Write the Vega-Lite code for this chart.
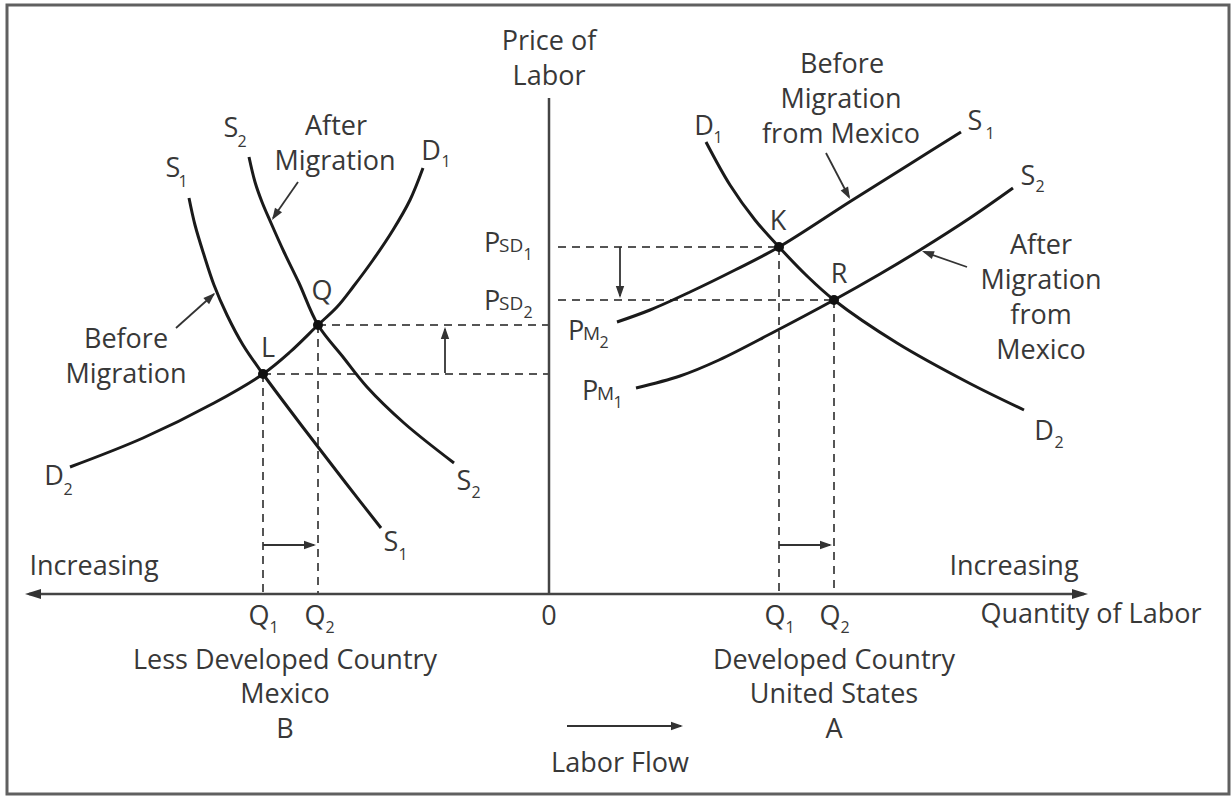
{
  "$schema": "https://vega.github.io/schema/vega-lite/v6.json",
  "width": 1231,
  "height": 797,
  "autosize": {"type": "fit", "contains": "padding"},
  "padding": 0,
  "background": "white",
  "config": {"view": {"stroke": null}, "text": {"font": "Open Sans"}},
  "datasets": {
    "frame": [{"x": -542, "y": 590, "x2": 680, "y2": -199}],
    "dashes": [
      {"x": -286, "y": 221, "x2": 0, "y2": 221},
      {"x": -231, "y": 270, "x2": 0, "y2": 270},
      {"x": -286, "y": 221, "x2": -286, "y2": 1},
      {"x": -231, "y": 270, "x2": -231, "y2": 1},
      {"x": 9, "y": 348, "x2": 230, "y2": 348},
      {"x": 9, "y": 295, "x2": 285, "y2": 295},
      {"x": 230, "y": 348, "x2": 230, "y2": 1},
      {"x": 285, "y": 295, "x2": 285, "y2": 1}
    ],
    "axes": [
      {"x": -520, "y": 1, "x2": 535, "y2": 1},
      {"x": 0, "y": 0, "x2": 0, "y2": 497}
    ],
    "arrows": [
      {"x": -104, "y": 222, "x2": -104, "y2": 266},
      {"x": 71, "y": 348, "x2": 71, "y2": 299},
      {"x": -286, "y": 50, "x2": -235, "y2": 50},
      {"x": 230, "y": 50, "x2": 281, "y2": 50},
      {"x": 18, "y": -131, "x2": 132, "y2": -131},
      {"x": -251, "y": 413, "x2": -276, "y2": 377},
      {"x": -373, "y": 267, "x2": -335, "y2": 301},
      {"x": 277, "y": 442, "x2": 300, "y2": 398},
      {"x": 418, "y": 328, "x2": 375, "y2": 343}
    ],
    "heads": [
      {"x": -104, "y": 268, "angle": 0},
      {"x": 71, "y": 297, "angle": 180},
      {"x": -233, "y": 50, "angle": 90},
      {"x": 283, "y": 50, "angle": 90},
      {"x": 134, "y": -131, "angle": 90},
      {"x": -277, "y": 375, "angle": 213},
      {"x": -334, "y": 302, "angle": 47},
      {"x": 301, "y": 396, "angle": 152},
      {"x": 373, "y": 344, "angle": 290}
    ],
    "axisHeads": [
      {"x": -524, "y": 1, "angle": 270},
      {"x": 539, "y": 1, "angle": 90}
    ],
    "dots": [
      {"x": -286, "y": 221},
      {"x": -231, "y": 270},
      {"x": 230, "y": 348},
      {"x": 285, "y": 295}
    ],
    "curves": [
      {"curve": "LS1", "i": 0, "x": -360, "y": 397},
      {"curve": "LS1", "i": 1, "x": -354, "y": 370},
      {"curve": "LS1", "i": 2, "x": -345, "y": 340},
      {"curve": "LS1", "i": 3, "x": -335, "y": 310},
      {"curve": "LS1", "i": 4, "x": -322, "y": 280},
      {"curve": "LS1", "i": 5, "x": -306, "y": 250},
      {"curve": "LS1", "i": 6, "x": -286, "y": 221},
      {"curve": "LS1", "i": 7, "x": -244, "y": 165},
      {"curve": "LS1", "i": 8, "x": -204, "y": 113},
      {"curve": "LS1", "i": 9, "x": -168, "y": 67},
      {"curve": "LS2", "i": 0, "x": -300, "y": 438},
      {"curve": "LS2", "i": 1, "x": -294, "y": 413},
      {"curve": "LS2", "i": 2, "x": -287, "y": 393},
      {"curve": "LS2", "i": 3, "x": -278, "y": 372},
      {"curve": "LS2", "i": 4, "x": -265, "y": 343},
      {"curve": "LS2", "i": 5, "x": -250, "y": 312},
      {"curve": "LS2", "i": 6, "x": -231, "y": 270},
      {"curve": "LS2", "i": 7, "x": -206, "y": 238},
      {"curve": "LS2", "i": 8, "x": -182, "y": 208},
      {"curve": "LS2", "i": 9, "x": -145, "y": 172},
      {"curve": "LS2", "i": 10, "x": -95, "y": 132},
      {"curve": "LD", "i": 0, "x": -126, "y": 427},
      {"curve": "LD", "i": 1, "x": -139, "y": 395},
      {"curve": "LD", "i": 2, "x": -156, "y": 365},
      {"curve": "LD", "i": 3, "x": -176, "y": 335},
      {"curve": "LD", "i": 4, "x": -196, "y": 308},
      {"curve": "LD", "i": 5, "x": -212, "y": 288},
      {"curve": "LD", "i": 6, "x": -231, "y": 270},
      {"curve": "LD", "i": 7, "x": -259, "y": 243},
      {"curve": "LD", "i": 8, "x": -286, "y": 221},
      {"curve": "LD", "i": 9, "x": -335, "y": 192},
      {"curve": "LD", "i": 10, "x": -406, "y": 157},
      {"curve": "LD", "i": 11, "x": -479, "y": 128},
      {"curve": "RD", "i": 0, "x": 157, "y": 453},
      {"curve": "RD", "i": 1, "x": 181, "y": 410},
      {"curve": "RD", "i": 2, "x": 206, "y": 375},
      {"curve": "RD", "i": 3, "x": 230, "y": 348},
      {"curve": "RD", "i": 4, "x": 257, "y": 320},
      {"curve": "RD", "i": 5, "x": 285, "y": 295},
      {"curve": "RD", "i": 6, "x": 348, "y": 252},
      {"curve": "RD", "i": 7, "x": 420, "y": 212},
      {"curve": "RD", "i": 8, "x": 475, "y": 185},
      {"curve": "RS1", "i": 0, "x": 68, "y": 273},
      {"curve": "RS1", "i": 1, "x": 101, "y": 285},
      {"curve": "RS1", "i": 2, "x": 141, "y": 303},
      {"curve": "RS1", "i": 3, "x": 186, "y": 325},
      {"curve": "RS1", "i": 4, "x": 230, "y": 348},
      {"curve": "RS1", "i": 5, "x": 302, "y": 394},
      {"curve": "RS1", "i": 6, "x": 361, "y": 431},
      {"curve": "RS1", "i": 7, "x": 412, "y": 463},
      {"curve": "RS2", "i": 0, "x": 87, "y": 207},
      {"curve": "RS2", "i": 1, "x": 131, "y": 219},
      {"curve": "RS2", "i": 2, "x": 170, "y": 235},
      {"curve": "RS2", "i": 3, "x": 223, "y": 262},
      {"curve": "RS2", "i": 4, "x": 285, "y": 295},
      {"curve": "RS2", "i": 5, "x": 331, "y": 321},
      {"curve": "RS2", "i": 6, "x": 371, "y": 345},
      {"curve": "RS2", "i": 7, "x": 421, "y": 377},
      {"curve": "RS2", "i": 8, "x": 464, "y": 407}
    ],
    "big": [
      {"x": 0, "y": 545, "t": "Price of"},
      {"x": 0, "y": 510, "t": "Labor"},
      {"x": -213, "y": 460, "t": "After"},
      {"x": -214, "y": 425, "t": "Migration"},
      {"x": -423, "y": 247, "t": "Before"},
      {"x": -423, "y": 212, "t": "Migration"},
      {"x": -227, "y": 295, "t": "Q"},
      {"x": -281, "y": 238, "t": "L"},
      {"x": 293, "y": 522, "t": "Before"},
      {"x": 292, "y": 487, "t": "Migration"},
      {"x": 292, "y": 452, "t": "from Mexico"},
      {"x": 229, "y": 365, "t": "K"},
      {"x": 290, "y": 312, "t": "R"},
      {"x": 492, "y": 341, "t": "After"},
      {"x": 492, "y": 306, "t": "Migration"},
      {"x": 492, "y": 271, "t": "from"},
      {"x": 492, "y": 236, "t": "Mexico"},
      {"x": -455, "y": 20, "t": "Increasing"},
      {"x": 465, "y": 20, "t": "Increasing"},
      {"x": 0, "y": -30, "t": "0"},
      {"x": 542, "y": -28, "t": "Quantity of Labor"},
      {"x": -264, "y": -74, "t": "Less Developed Country"},
      {"x": -264, "y": -108, "t": "Mexico"},
      {"x": -264, "y": -143, "t": "B"},
      {"x": 285, "y": -74, "t": "Developed Country"},
      {"x": 285, "y": -108, "t": "United States"},
      {"x": 285, "y": -143, "t": "A"},
      {"x": 71, "y": -177, "t": "Labor Flow"},
      {"x": -376, "y": 418, "t": "S"},
      {"x": -318, "y": 458, "t": "S"},
      {"x": -118, "y": 435, "t": "D"},
      {"x": -495, "y": 110, "t": "D"},
      {"x": -85, "y": 105, "t": "S"},
      {"x": -158, "y": 44, "t": "S"},
      {"x": 155, "y": 460, "t": "D"},
      {"x": 426, "y": 465, "t": "S"},
      {"x": 479, "y": 410, "t": "S"},
      {"x": 495, "y": 155, "t": "D"},
      {"x": -290, "y": -30, "t": "Q"},
      {"x": -234, "y": -30, "t": "Q"},
      {"x": 226, "y": -30, "t": "Q"},
      {"x": 281, "y": -30, "t": "Q"},
      {"x": -57, "y": 343, "t": "P"},
      {"x": -57, "y": 285, "t": "P"},
      {"x": 27, "y": 255, "t": "P"},
      {"x": 41, "y": 195, "t": "P"}
    ],
    "sub": [
      {"x": -366, "y": 408, "t": "1"},
      {"x": -307, "y": 448, "t": "2"},
      {"x": -103, "y": 428, "t": "1"},
      {"x": -481, "y": 100, "t": "2"},
      {"x": -73, "y": 97, "t": "2"},
      {"x": -146, "y": 35, "t": "1"},
      {"x": 169, "y": 452, "t": "1"},
      {"x": 441, "y": 456, "t": "1"},
      {"x": 491, "y": 403, "t": "2"},
      {"x": 510, "y": 147, "t": "2"},
      {"x": -275, "y": -38, "t": "1"},
      {"x": -219, "y": -38, "t": "2"},
      {"x": 241, "y": -38, "t": "1"},
      {"x": 296, "y": -38, "t": "2"},
      {"x": -21, "y": 335, "t": "1"},
      {"x": -21, "y": 277, "t": "2"},
      {"x": 55, "y": 247, "t": "2"},
      {"x": 69, "y": 187, "t": "1"}
    ],
    "caps": [
      {"x": -50, "y": 343, "t": "SD"},
      {"x": -50, "y": 285, "t": "SD"},
      {"x": 34, "y": 255, "t": "M"},
      {"x": 48, "y": 195, "t": "M"}
    ]
  },
  "encoding": {
    "x": {"field": "x", "type": "quantitative", "scale": {"domain": [-549, 682], "nice": false, "zero": false}, "axis": null},
    "y": {"field": "y", "type": "quantitative", "scale": {"domain": [-202, 595], "nice": false, "zero": false}, "axis": null}
  },
  "layer": [
    {
      "data": {"name": "frame"},
      "mark": {"type": "rect", "filled": false, "stroke": "#606060", "strokeWidth": 3},
      "encoding": {"x2": {"field": "x2"}, "y2": {"field": "y2"}}
    },
    {
      "data": {"name": "dashes"},
      "mark": {"type": "rule", "stroke": "#555555", "strokeWidth": 2, "strokeDash": [8, 6]},
      "encoding": {"x2": {"field": "x2"}, "y2": {"field": "y2"}}
    },
    {
      "data": {"name": "axes"},
      "mark": {"type": "rule", "stroke": "#444444", "strokeWidth": 2.5},
      "encoding": {"x2": {"field": "x2"}, "y2": {"field": "y2"}}
    },
    {
      "data": {"name": "arrows"},
      "mark": {"type": "rule", "stroke": "#333333", "strokeWidth": 1.8},
      "encoding": {"x2": {"field": "x2"}, "y2": {"field": "y2"}}
    },
    {
      "data": {"name": "curves"},
      "mark": {"type": "line", "interpolate": "catmull-rom", "stroke": "#1a1a1a", "strokeWidth": 3},
      "encoding": {"detail": {"field": "curve"}, "order": {"field": "i", "type": "quantitative"}}
    },
    {
      "data": {"name": "heads"},
      "mark": {"type": "point", "shape": "M0,0L0.35,1L-0.35,1Z", "size": 576, "filled": true, "color": "#333333", "opacity": 1, "strokeWidth": 0},
      "encoding": {"angle": {"field": "angle", "type": "quantitative", "scale": null}}
    },
    {
      "data": {"name": "axisHeads"},
      "mark": {"type": "point", "shape": "M0,0L0.32,1L-0.32,1Z", "size": 1024, "filled": true, "color": "#333333", "opacity": 1, "strokeWidth": 0},
      "encoding": {"angle": {"field": "angle", "type": "quantitative", "scale": null}}
    },
    {
      "data": {"name": "dots"},
      "mark": {"type": "point", "shape": "circle", "size": 100, "filled": true, "color": "#111111", "opacity": 1}
    },
    {
      "data": {"name": "big"},
      "mark": {"type": "text", "fontSize": 27, "align": "center", "baseline": "alphabetic", "color": "#383838"},
      "encoding": {"text": {"field": "t"}}
    },
    {
      "data": {"name": "sub"},
      "mark": {"type": "text", "fontSize": 16, "align": "center", "baseline": "alphabetic", "color": "#383838"},
      "encoding": {"text": {"field": "t"}}
    },
    {
      "data": {"name": "caps"},
      "mark": {"type": "text", "fontSize": 19, "align": "left", "baseline": "alphabetic", "color": "#383838"},
      "encoding": {"text": {"field": "t"}}
    }
  ]
}
